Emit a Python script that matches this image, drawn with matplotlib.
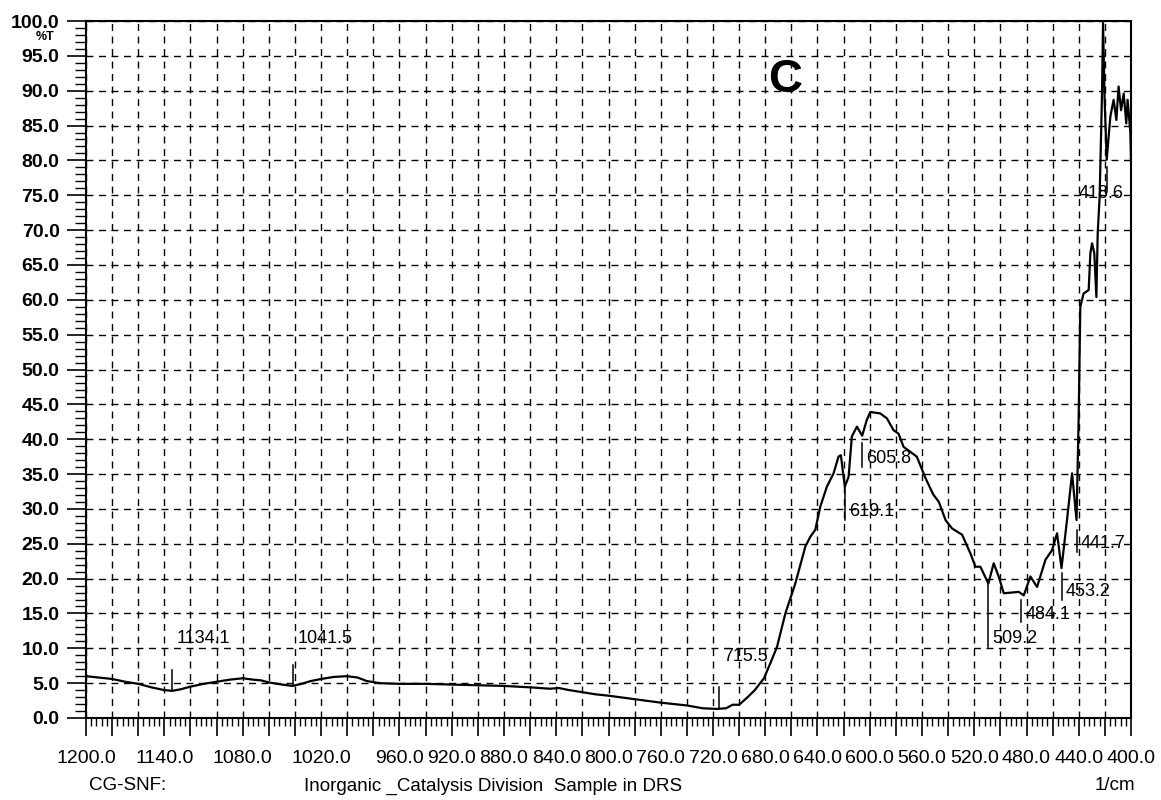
import numpy as np
import matplotlib
matplotlib.use('Agg')
import matplotlib.pyplot as plt
from matplotlib.ticker import MultipleLocator, FixedLocator

plt.rcParams['font.family'] = ['Liberation Sans', 'DejaVu Sans']

# spectrum: wavenumber (1/cm) and %T
wavenumber = [1200, 1190, 1180, 1170, 1160, 1150, 1140, 1134, 1128, 1120,
              1110, 1100, 1090, 1080, 1072, 1066, 1060, 1050, 1042, 1035,
              1028, 1020, 1010, 1000, 992, 985, 975, 960, 940, 920,
              900, 880, 860, 845, 838, 830, 820, 810, 800, 780,
              760, 740, 728, 717, 710, 705, 700, 694, 688, 681,
              676, 671, 664.6, 657, 649.3, 645.5, 641.7, 637.9, 632.8, 627.7,
              623.9, 622.1, 619.1, 616.2, 613.7, 609.8, 605.8, 602.2, 599.6, 592,
              586.9, 581.8, 578, 574.1, 564, 557.5, 551.5, 547.1, 542, 537,
              529.3, 522.9, 519.1, 515.3, 509.2, 505.1, 501.3, 497.4, 491, 486,
              482.1, 477, 471.9, 465.5, 460.4, 456.6, 453.2, 449, 445.1, 441.7,
              440.1, 438.8, 436.3, 432.4, 431.1, 429.8, 428.1, 426.5, 425.5, 424,
              422.2, 421.4, 420.2, 418.6, 415.8, 413.3, 411.2, 409.5, 407.6, 405.6,
              403.6, 402.6, 400.5, 400]
transmittance = [6.0, 5.8, 5.6, 5.2, 4.9, 4.4, 4.0, 3.9, 4.1, 4.5,
                 4.9, 5.2, 5.5, 5.7, 5.5, 5.4, 5.1, 4.8, 4.6, 4.9,
                 5.3, 5.6, 5.9, 6.0, 5.8, 5.3, 5.0, 4.9, 4.9, 4.8,
                 4.7, 4.6, 4.4, 4.2, 4.3, 4.0, 3.7, 3.4, 3.2, 2.7,
                 2.2, 1.8, 1.4, 1.3, 1.4, 1.9, 1.9, 2.9, 4.0, 5.7,
                 7.9, 10.2, 15.0, 19.3, 24.6, 26.0, 27.0, 30.3, 33.2, 35.1,
                 37.5, 37.7, 33.2, 34.6, 40.4, 41.8, 40.5, 42.8, 43.9, 43.7,
                 43.0, 41.3, 40.8, 38.9, 37.5, 34.5, 32.1, 31.0, 28.4, 27.2,
                 26.3, 23.6, 21.7, 21.7, 19.3, 22.2, 20.3, 17.9, 18.0, 18.1,
                 17.6, 20.3, 18.8, 22.7, 24.1, 26.5, 21.5, 28.4, 35.1, 28.4,
                 42.8, 59.0, 60.9, 61.4, 66.7, 68.1, 66.7, 60.4, 69.5, 74.8,
                 89.6, 99.7, 88.7, 80.1, 86.3, 88.7, 85.8, 90.6, 87.2, 89.6,
                 85.3, 88.7, 84.0, 80.0]

# peak picks printed by the instrument
peak_wn = [1134.1, 1041.5, 715.5, 619.1, 605.8, 509.2, 484.1, 453.2, 441.7, 418.6]
peak_line_from = [3.9, 4.6, 1.4, 33.7, 39.5, 19.4, 16.9, 20.8, 27.0, 79.0]
peak_line_to = [6.9, 7.6, 4.4, 28.4, 36.0, 10.2, 13.8, 16.9, 23.8, 75.5]
peak_label_y = [10.2, 10.2, 7.6, 28.4, 36.0, 10.2, 13.6, 16.9, 23.8, 74.0]

xtick_labels = [1200, 1140, 1080, 1020, 960, 920, 880, 840, 800, 760,
                720, 680, 640, 600, 560, 520, 480, 440, 400]

W, H = 1161, 800
fig = plt.figure(figsize=(W / 100, H / 100), dpi=100)
ax = fig.add_axes([86 / W, (H - 718) / H, 1045 / W, 697 / H])

ax.plot(wavenumber, transmittance, color='black', lw=1.6, zorder=3)

# peak markers
for wn, y0, y1, ly in zip(peak_wn, peak_line_from, peak_line_to, peak_label_y):
    ax.plot([wn, wn], [y0, y1], color='black', lw=1.1, zorder=3)
    if wn < 420:
        ax.annotate(f'{wn:.1f}', xy=(wn, ly), xytext=(-4, 0), textcoords='offset points',
                    ha='center', va='bottom', fontsize=13)
    else:
        ax.annotate(f'{wn:.1f}', xy=(wn, ly), xytext=(3, 0), textcoords='offset points',
                    ha='left', va='bottom', fontsize=13)

ax.text(665, 91.5, 'C', fontsize=34, fontweight='bold', ha='center', va='center')

ax.set_xlim(1200, 400)
ax.set_ylim(0, 100)

major_x = np.arange(400, 1201, 20)
ax.xaxis.set_major_locator(FixedLocator(major_x))
ax.set_xticklabels([f'{v:.1f}' if v in xtick_labels else '' for v in major_x])
ax.xaxis.set_minor_locator(MultipleLocator(4))
ax.yaxis.set_major_locator(MultipleLocator(5))
ax.yaxis.set_minor_locator(MultipleLocator(1))
ax.yaxis.set_major_formatter(plt.FormatStrFormatter('%.1f'))

ax.tick_params(axis='x', which='major', direction='out', length=13, width=1.2,
               pad=10, labelsize=14)
ax.tick_params(axis='x', which='minor', direction='out', length=6, width=1.0)
ax.tick_params(axis='y', which='major', direction='out', length=14, width=1.2,
               pad=5, labelsize=14)
ax.tick_params(axis='y', which='minor', direction='out', length=8, width=1.0)
for lab in ax.get_yticklabels():
    lab.set_fontweight('bold')

ax.grid(which='major', color='black', linestyle=(0, (5, 4)), linewidth=1.0)
for s in ax.spines.values():
    s.set_linewidth(1.5)

fig.text(54 / W, 1 - 36.5 / H, '%T', ha='right', va='center', fontsize=9, fontweight='bold')
fig.text(128 / W, 1 - 786 / H, 'CG-SNF:', ha='center', va='center', fontsize=13.5)
fig.text(304 / W, 1 - 786 / H, 'Inorganic _Catalysis Division  Sample in DRS',
         ha='left', va='center', fontsize=13.5)
fig.text(1115 / W, 1 - 786 / H, '1/cm', ha='center', va='center', fontsize=13.5)

fig.savefig('out.png', dpi=100)
